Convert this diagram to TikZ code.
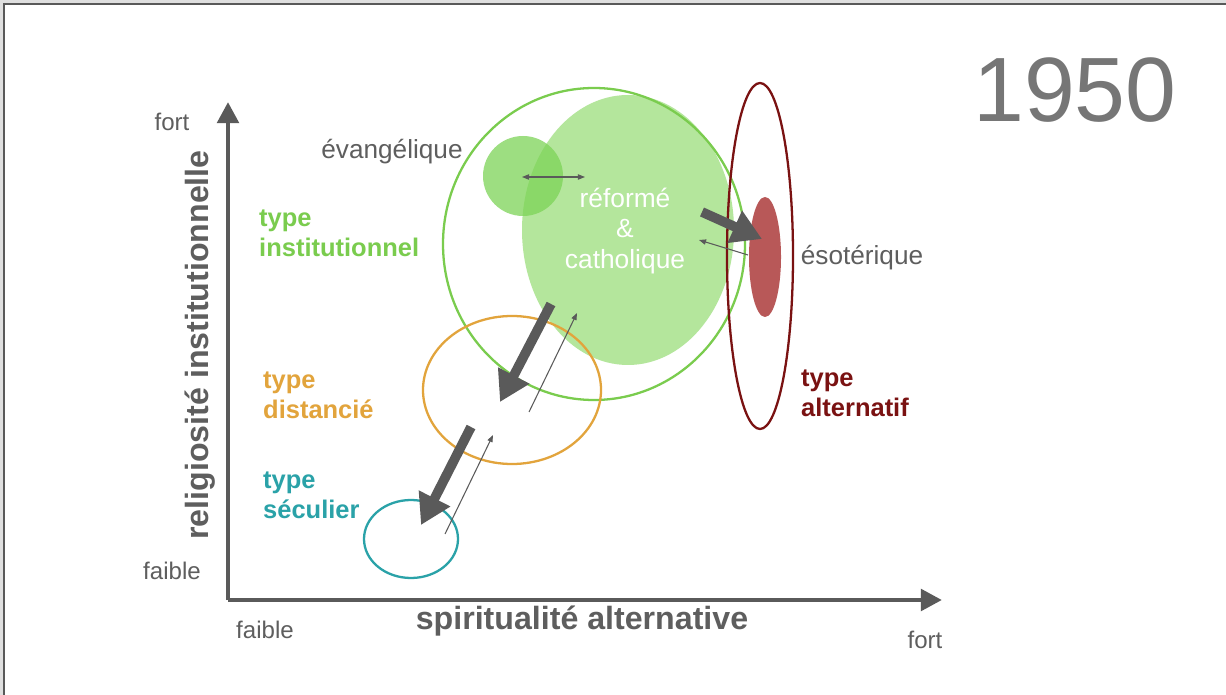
\documentclass[tikz,border=0pt]{standalone}
\usepackage{fontspec}
\setmainfont{Liberation Sans}
\usetikzlibrary{arrows.meta}

\definecolor{txtgray}{HTML}{5E5E5E}
\definecolor{axisgray}{HTML}{5A5A5A}
\definecolor{instgreen}{HTML}{7ACC4E}
\definecolor{reffill}{HTML}{B4E69C}
\definecolor{evfill}{HTML}{7DD457}
\definecolor{distorange}{HTML}{E2A43C}
\definecolor{secteal}{HTML}{2AA2A8}
\definecolor{altred}{HTML}{7A1212}
\definecolor{esofill}{HTML}{B85858}

\tikzset{
  axisline/.style={draw=axisgray, line width=2.8pt, -{Triangle[length=12pt,width=12pt]}},
  flowbig/.style={draw=axisgray, line width=5.5pt, -{Triangle[length=17pt,width=19pt]}},
  flowthin/.style={draw=axisgray, line width=0.6pt, -{Triangle[length=4pt,width=3pt]}},
  scalelabel/.style={text=txtgray, font=\fontsize{13.7}{16}\selectfont},
  axislabel/.style={text=txtgray, font=\fontsize{18.3}{21}\selectfont\bfseries},
  typelabel/.style={font=\fontsize{14.5}{17}\selectfont\bfseries, align=left, anchor=west},
  grouplabel/.style={text=txtgray, font=\fontsize{14.9}{17}\selectfont}
}

\begin{document}
\begin{tikzpicture}[x=0.02cm, y=-0.02cm]

\useasboundingbox (0,0) rectangle (1226,695);
\fill[gray!25] (0,0) rectangle (1226,695);
\draw[fill=white, draw=gray!70!black, line width=0.8pt] (4,4) rectangle (1240,710);

% ellipse centres
\coordinate (inst) at (594,244);
\coordinate (ref) at (628,230);
\coordinate (evan) at (523,176);
\coordinate (alt) at (760,256);
\coordinate (eso) at (765,257);
\coordinate (dist) at (512,390);
\coordinate (sec) at (411,539);

% groups
\fill[reffill] (ref) ellipse [x radius=106, y radius=135];
\fill[evfill, opacity=0.75] (evan) circle [radius=40];
\draw[instgreen, line width=1.3pt] (inst) ellipse [x radius=151, y radius=156];
\fill[esofill] (eso) ellipse [x radius=16, y radius=60];
\draw[altred, line width=1.3pt] (alt) ellipse [x radius=33, y radius=173];
\draw[distorange, line width=1.3pt] (dist) ellipse [x radius=89, y radius=74];
\draw[secteal, line width=1.3pt] (sec) ellipse [x radius=47, y radius=39];

% axes
\coordinate (origin) at (228,600);
\coordinate (ytip) at (228,102);
\coordinate (xtip) at (942,600);
\draw[axisline] (origin) -- (ytip);
\draw[axisline] (origin) -- (xtip);

\node[scalelabel] (yfort) at (172,122) {fort};
\node[scalelabel] (yfaible) at (172,571) {faible};
\node[scalelabel] (xfaible) at (265,630) {faible};
\node[scalelabel] (xfort) at (925,640) {fort};
\node[axislabel, rotate=90] (ylab) at (200,345) {religiosité institutionnelle};
\node[axislabel] (xlab) at (582,621) {spiritualité alternative};

\node[text=txtgray!85, font=\fontsize{52}{60}\selectfont] (year) at (1075,90) {1950};

% labels
\node[grouplabel] (evlab) at (392,152) {évangélique};
\node[grouplabel] (esolab) at (862,258) {ésotérique};
\node[text=white, font=\fontsize{15}{17.6}\selectfont, align=center] (reflab) at (625,231) {réformé\\\&\\catholique};

\node[typelabel, text=instgreen] (tinst) at (253,233) {type\\institutionnel};
\node[typelabel, text=distorange] (tdist) at (257,395) {type\\distancié};
\node[typelabel, text=secteal] (tsec) at (257,495) {type\\séculier};
\node[typelabel, text=altred] (talt) at (795,393) {type\\alternatif};

% flows
\coordinate (a1) at (551,304); \coordinate (a2) at (500,402);
\coordinate (b1) at (471,427); \coordinate (b2) at (421,525);
\coordinate (c1) at (702,212); \coordinate (c2) at (762,239);
\coordinate (d1) at (529,412); \coordinate (d2) at (577,313);
\coordinate (e1) at (445,534); \coordinate (e2) at (493,435);
\coordinate (f1) at (748,255); \coordinate (f2) at (699,240);
\coordinate (g1) at (522,177); \coordinate (g2) at (585,177);

\draw[flowbig] (a1) -- (a2);
\draw[flowbig] (b1) -- (b2);
\draw[flowbig] (c1) -- (c2);
\draw[flowthin] (d1) -- (d2);
\draw[flowthin] (e1) -- (e2);
\draw[flowthin] (f1) -- (f2);
\draw[flowthin, {Triangle[length=4pt,width=3pt]}-{Triangle[length=4pt,width=3pt]}] (g1) -- (g2);

\end{tikzpicture}
\end{document}
